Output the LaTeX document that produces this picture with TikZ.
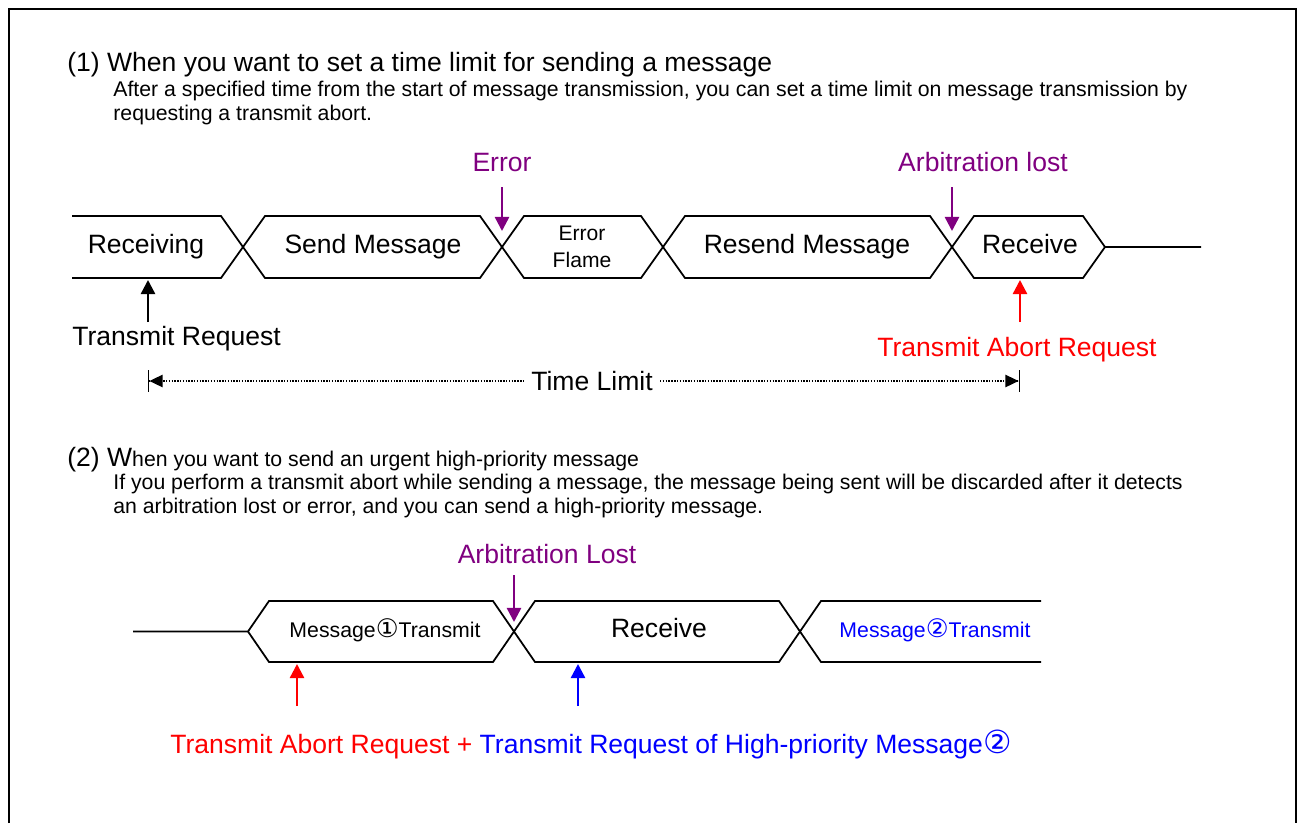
\documentclass[tikz,border=0pt]{standalone}
\usepackage{fontspec}
\setmainfont{Liberation Sans}
\newfontfamily\circfont[Scale=1.2]{DejaVu Sans}
\usetikzlibrary{arrows.meta}
\definecolor{eventpurple}{RGB}{128,0,128}
\definecolor{abortred}{RGB}{255,0,0}
\definecolor{urgentblue}{RGB}{0,0,255}
\tikzset{
    % Solid triangular heads, as in the timing sketches
    >={Triangle[length=8pt,width=8pt]},
%
    % The two text sizes in use
    large text/.style={font=\fontsize{15.1}{18}\selectfont, inner sep=0pt},
    small text/.style={font=\fontsize{12.1}{14.6}\selectfont, inner sep=0pt},
%
    % Outline of the bus state bands
    timing line/.style={line width=1pt, line join=miter},
%
    % Short arrows pointing at the bands
    marker/.style={->, line width=1.4pt},
%
    % Dotted dimension line for the time limit
    dimension line/.style={dash pattern=on 0.8pt off 0.8pt, line width=0.8pt},
%
    % Border round the sheet
    frame line/.style={line width=1.4pt}}

\begin{document}
\begin{tikzpicture}[x=0.02cm, y=-0.02cm]
\useasboundingbox (0,0) rectangle (1299,823);

% Sheet border, open at the bottom
\draw[frame line] (9,823) -- (9,9) -- (1296,9) -- (1296,823);

% Case (1): heading and explanation
\path
    node[large text, anchor=base west] (case one title) at (67,71)
        {(1) When you want to set a time limit for sending a message}
    node[small text, anchor=base west] (case one line a) at (113,96)
        {After a specified time from the start of message transmission, you can set a time limit on message transmission by}
    node[small text, anchor=base west] (case one line b) at (113,120)
        {requesting a transmit abort.};

% Bus states of case (1)
\draw[timing line] (72,216) -- (221,216) -- (265,278) -- (480,278) -- (524,216)
    -- (641,216) -- (685,278) -- (930,278) -- (974,216) -- (1083,216)
    -- (1105,247) -- (1201,247);
\draw[timing line] (72,278) -- (221,278) -- (265,216) -- (480,216) -- (524,278)
    -- (641,278) -- (685,216) -- (930,216) -- (974,278) -- (1083,278)
    -- (1105,247);

\path
    node[large text, anchor=base] (receiving) at (146,253) {Receiving}
    node[large text, anchor=base] (send message) at (373,253) {Send Message}
    node[small text, align=center, anchor=center,
        font=\fontsize{12}{15}\selectfont] (error flame) at (582,247)
        {Error\\Flame}
    node[large text, anchor=base] (resend message) at (807,253) {Resend Message}
    node[large text, anchor=base] (receive one) at (1030,253) {Receive};

% Events on the bus
\path
    node[large text, anchor=base, text=eventpurple] (error label) at (502,171)
        {Error}
    node[large text, anchor=base, text=eventpurple] (lost label) at (983,171)
        {Arbitration lost}
    coordinate (error top) at (502,187)
    coordinate (error tip) at (502,231)
    coordinate (lost top) at (952,187)
    coordinate (lost tip) at (952,231);
\draw[marker, eventpurple] (error top) -- (error tip);
\draw[marker, eventpurple] (lost top) -- (lost tip);

% Requests from the user
\path
    node[large text, anchor=base west] (request label) at (72,345)
        {Transmit Request}
    node[large text, anchor=base, text=abortred] (abort label) at (1017,356)
        {Transmit Abort Request}
    coordinate (request foot) at (148,322)
    coordinate (request tip) at (148,280)
    coordinate (abort foot) at (1020,322)
    coordinate (abort tip) at (1020,280);
\draw[marker] (request foot) -- (request tip);
\draw[marker, abortred] (abort foot) -- (abort tip);

% Time limit between the two requests
\path
    node[large text, inner xsep=4pt] (time limit) at (592,381) {Time Limit}
    coordinate (limit start) at (148,381)
    coordinate (limit end) at (1020,381);
\draw[dimension line, {Bar[width=12pt]Triangle[length=7.5pt,width=7pt]}-]
    (limit start) -- (time limit);
\draw[dimension line, -{Triangle[length=7.5pt,width=7pt]Bar[width=12pt]}]
    (time limit) -- (limit end);

% Case (2): heading and explanation
\path
    node[large text, anchor=base west] (case two title) at (67,466)
        {(2) W{\fontsize{12.1}{14.6}\selectfont hen you want to send an urgent high-priority message}}
    node[small text, anchor=base west] (case two line a) at (113,489)
        {If you perform a transmit abort while sending a message, the message being sent will be discarded after it detects}
    node[small text, anchor=base west] (case two line b) at (113,513)
        {an arbitration lost or error, and you can send a high-priority message.};

% Bus states of case (2)
\draw[timing line] (133,631.5) -- (248,631.5) -- (269,601) -- (493,601)
    -- (535,662) -- (779,662) -- (821,601) -- (1041,601);
\draw[timing line] (248,631.5) -- (269,662) -- (493,662) -- (535,601)
    -- (779,601) -- (821,662) -- (1041,662);

\path
    node[small text, anchor=base] (message one) at (385,637)
        {Message{\circfont ①}Transmit}
    node[large text, anchor=base] (receive two) at (659,637) {Receive}
    node[small text, anchor=base, text=urgentblue] (message two) at (935,637)
        {Message{\circfont ②}Transmit};

% Arbitration lost and the two requests
\path
    node[large text, anchor=base, text=eventpurple] (lost two label) at (547,563)
        {Arbitration Lost}
    coordinate (lost two top) at (514,575)
    coordinate (lost two tip) at (514,622)
    coordinate (abort two foot) at (297,706)
    coordinate (abort two tip) at (297,664)
    coordinate (urgent foot) at (578,706)
    coordinate (urgent tip) at (578,664);
\draw[marker, eventpurple] (lost two top) -- (lost two tip);
\draw[marker, abortred] (abort two foot) -- (abort two tip);
\draw[marker, urgentblue] (urgent foot) -- (urgent tip);

\node[large text, anchor=base west] (request text) at (170,753)
    {\textcolor{abortred}{Transmit Abort Request +} \textcolor{urgentblue}{Transmit Request of High-priority Message{\circfont ②}}};

\end{tikzpicture}
\end{document}
